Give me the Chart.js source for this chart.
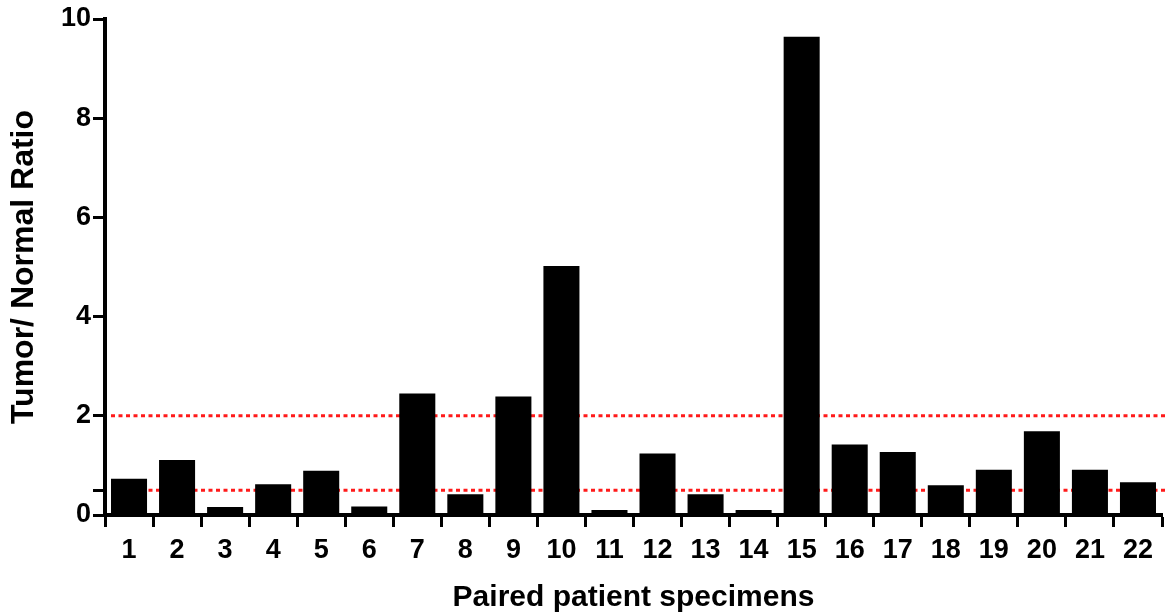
<!DOCTYPE html>
<html>
<head>
<meta charset="utf-8">
<script src="https://cdn.jsdelivr.net/npm/chart.js@4.4.0/dist/chart.umd.min.js"></script>
<style>
  html, body { margin: 0; padding: 0; background: #fff; }
  #wrap { width: 1168px; height: 616px; }
</style>
</head>
<body>
<div id="wrap"><canvas id="chart"></canvas></div>
<script>
const specimens = ["1","2","3","4","5","6","7","8","9","10","11","12","13","14","15","16","17","18","19","20","21","22"];
const ratios = [0.73, 1.11, 0.16, 0.62, 0.89, 0.17, 2.45, 0.42, 2.39, 5.02, 0.1, 1.24, 0.42, 0.1, 9.64, 1.42, 1.27, 0.6, 0.91, 1.69, 0.91, 0.66];
const yTicks = [0, 0.5, 2, 4, 6, 8, 10];
const cutoffs = [2, 0.5];

const font = "'Liberation Sans', Arial, sans-serif";

// dotted red cutoff lines, drawn behind the bars
const cutoffLines = {
  id: "cutoffLines",
  beforeDatasetsDraw(chart) {
    const { ctx, chartArea, scales } = chart;
    ctx.save();
    ctx.strokeStyle = "#ff1a1a";
    ctx.lineWidth = 3;
    ctx.setLineDash([4, 3.5]);
    for (const v of cutoffs) {
      const y = scales.y.getPixelForValue(v);
      ctx.beginPath();
      ctx.moveTo(chartArea.left + 6, y);
      ctx.lineTo(chart.width, y);
      ctx.stroke();
    }
    ctx.restore();
  }
};

new Chart(document.getElementById("chart"), {
  type: "bar",
  data: {
    labels: specimens,
    datasets: [{
      data: ratios,
      backgroundColor: "#000",
      borderWidth: 0,
      barPercentage: 0.75,
      categoryPercentage: 1
    }]
  },
  options: {
    responsive: true,
    maintainAspectRatio: false,
    animation: false,
    layout: { padding: { top: 19, right: 6, left: 0, bottom: 0 } },
    plugins: { legend: { display: false }, tooltip: { enabled: false } },
    scales: {
      x: {
        afterFit: (s) => { s.height = 101; },
        border: { color: "#000", width: 4 },
        grid: { drawOnChartArea: false, drawTicks: true, tickLength: 12, tickWidth: 3, color: "#000" },
        ticks: { color: "#000", font: { family: font, size: 27, weight: "bold" }, padding: 7, maxRotation: 0, autoSkip: false },
        title: { display: true, text: "Paired patient specimens", color: "#000", font: { family: font, size: 30, weight: "bold" }, padding: { top: 4, bottom: 0 } }
      },
      y: {
        min: 0,
        max: 10,
        afterFit: (s) => { s.width = 105; },
        afterBuildTicks: (s) => { s.ticks = yTicks.map((v) => ({ value: v })); },
        border: { color: "#000", width: 4 },
        grid: { drawOnChartArea: false, drawTicks: true, tickLength: 12, tickWidth: 3, color: "#000" },
        ticks: {
          color: "#000",
          font: { family: font, size: 27, weight: "bold" },
          padding: 2,
          callback: (v) => (v === 0.5 ? "" : String(v))
        },
        title: { display: true, text: "Tumor/ Normal Ratio", color: "#000", font: { family: font, size: 32, weight: "bold" }, padding: { top: 5, bottom: 0 } }
      }
    }
  },
  plugins: [cutoffLines]
});
</script>
</body>
</html>
